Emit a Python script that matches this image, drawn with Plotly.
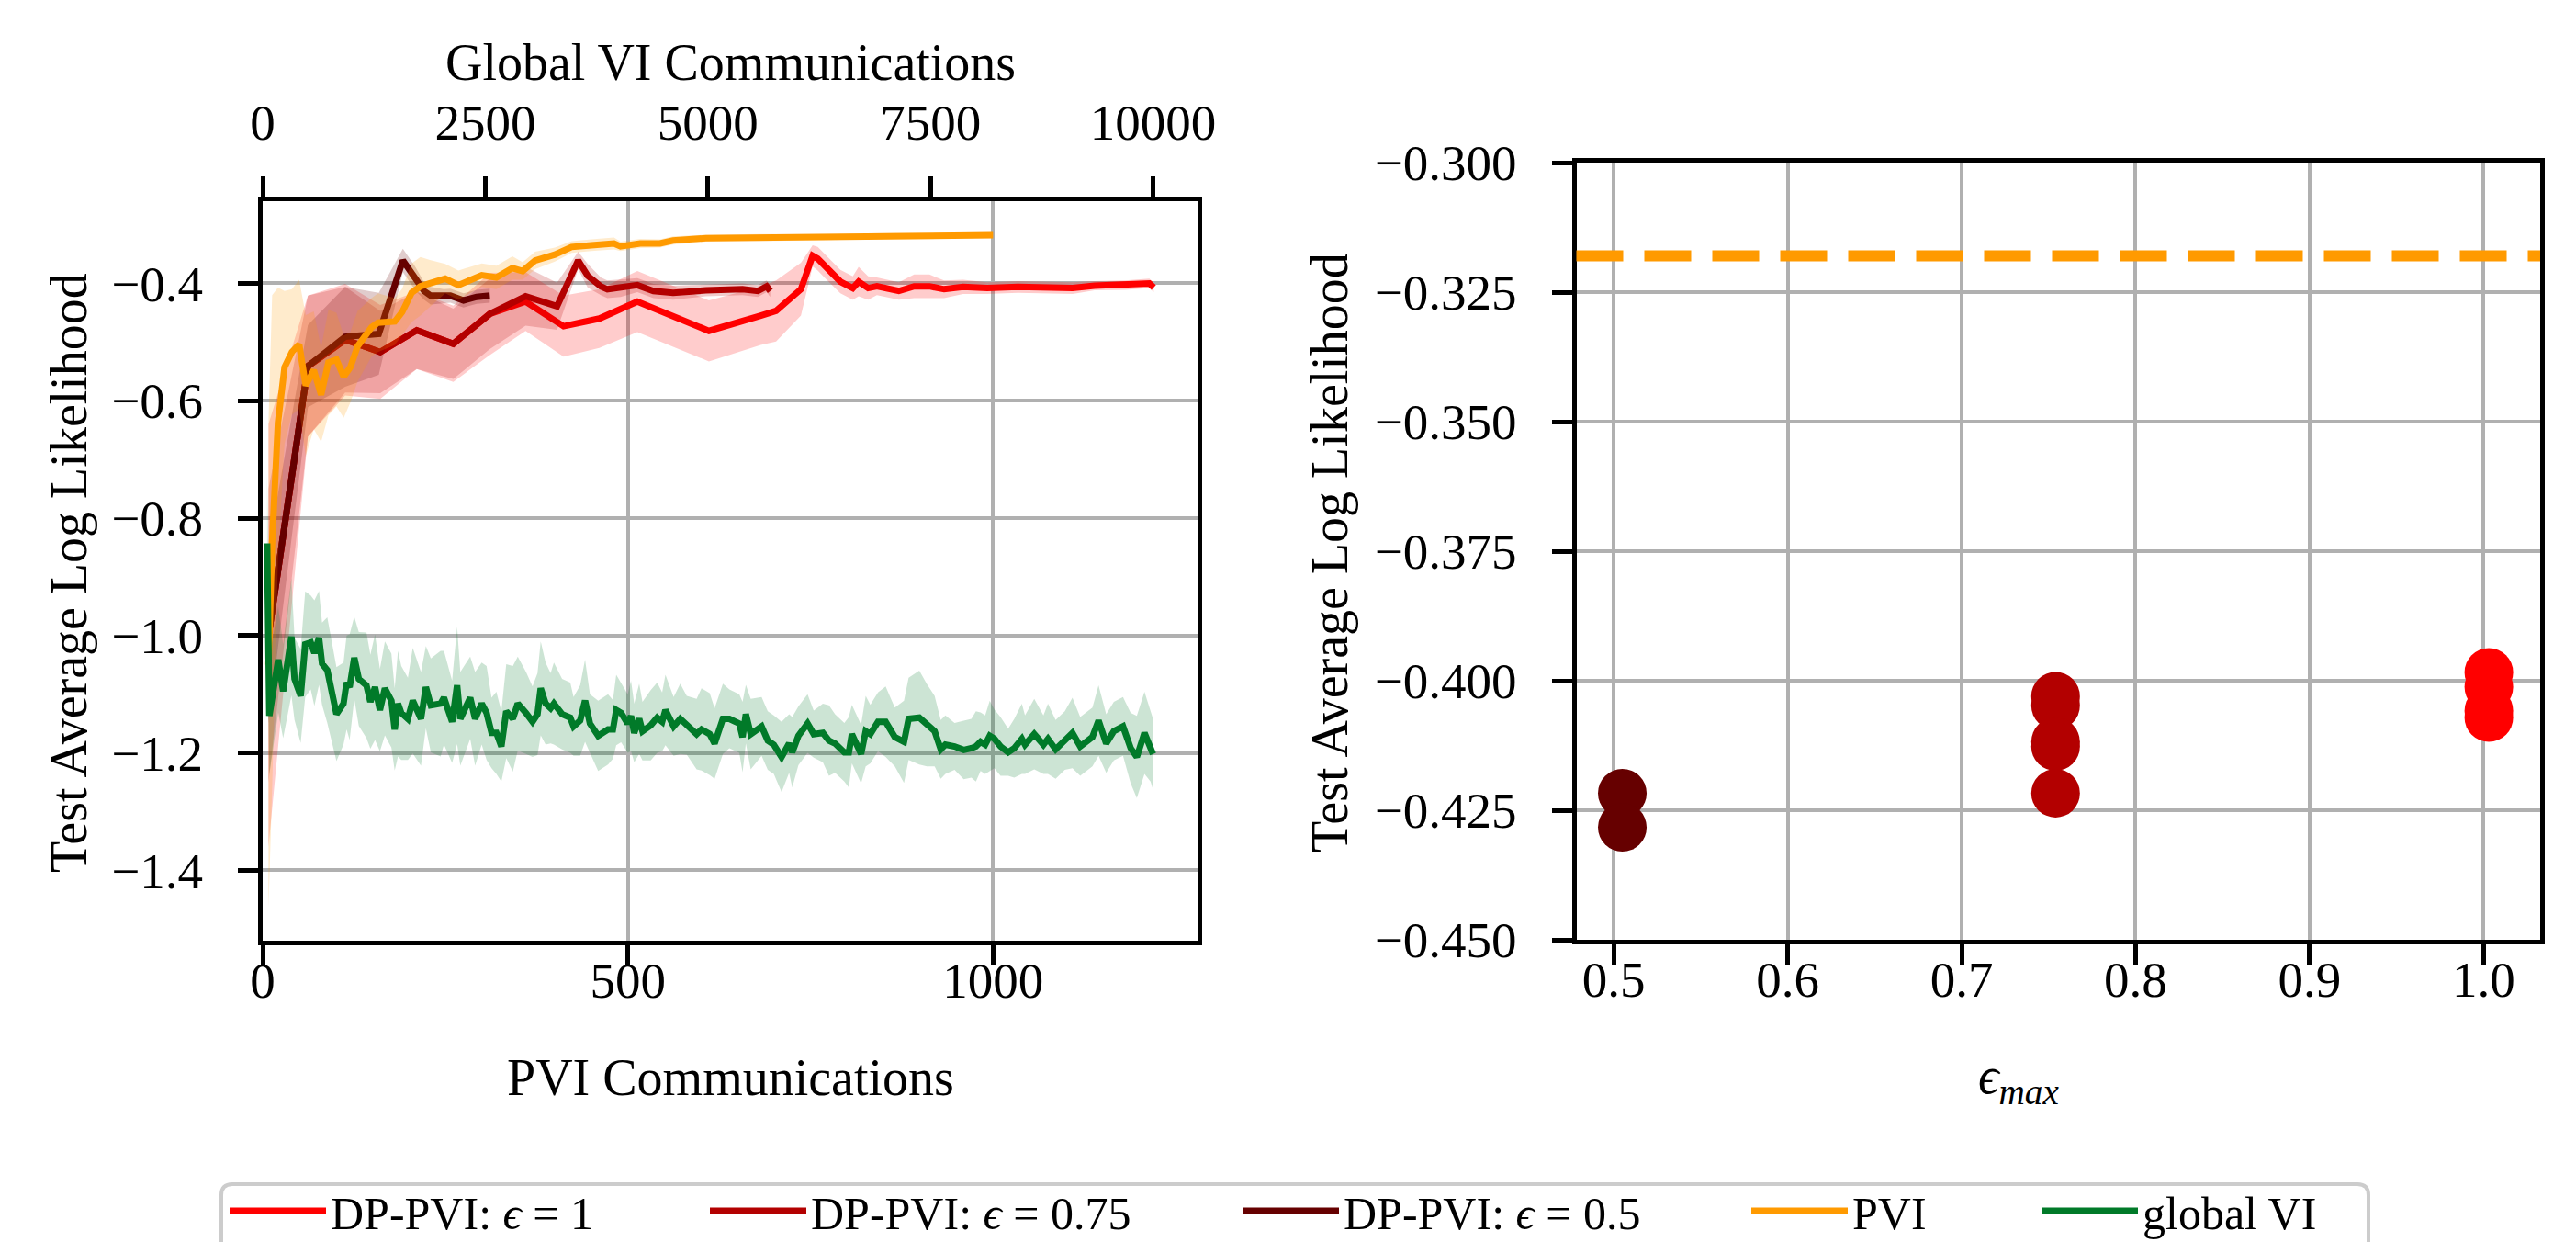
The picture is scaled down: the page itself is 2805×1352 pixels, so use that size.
import plotly.graph_objects as go

# ---------------- data ----------------
# PVI (bottom axis: PVI communications)
pvi_x = [8, 13, 21, 30, 40, 50, 59, 70, 80, 90,
         101, 111, 120, 130, 149, 158, 181, 191, 204, 216,
         229, 250, 268, 300, 320, 342, 356, 373, 400, 423,
         450, 481, 490, 517, 544, 562, 607, 682, 783, 866,
         1000]
pvi_mean = [-1.050, -0.840, -0.637, -0.543, -0.517, -0.504, -0.574, -0.548, -0.590, -0.535,
            -0.530, -0.559, -0.543, -0.507, -0.475, -0.467, -0.465, -0.449, -0.416, -0.405,
            -0.400, -0.392, -0.403, -0.386, -0.390, -0.374, -0.379, -0.361, -0.351, -0.338,
            -0.335, -0.332, -0.337, -0.332, -0.332, -0.327, -0.323, -0.322, -0.321, -0.319,
            -0.318]
pvi_std = [0.415, 0.420, 0.230, 0.130, 0.107, 0.110, 0.120, 0.100, 0.080, 0.090,
           0.080, 0.070, 0.060, 0.060, 0.050, 0.050, 0.040, 0.040, 0.050, 0.050,
           0.040, 0.025, 0.025, 0.020, 0.020, 0.020, 0.015, 0.015, 0.012, 0.010,
           0.010, 0.010, 0.008, 0.008, 0.007, 0.007, 0.006, 0.006, 0.005, 0.005,
           0.005]

# DP-PVI eps = 0.5
dp05_x = [8, 62, 113, 159, 192, 209, 221, 230, 248, 257, 275, 293, 311]
dp05_mean = [-1.000, -0.541, -0.491, -0.486, -0.361, -0.392, -0.413, -0.421, -0.422, -0.421,
             -0.429, -0.423, -0.421]
dp05_std = [0.150, 0.070, 0.085, 0.070, 0.020, 0.020, 0.015, 0.015, 0.012, 0.012,
            0.012, 0.012, 0.012]

# DP-PVI eps = 0.75
dp075_x = [8, 62, 113, 161, 211, 261, 311, 360, 403, 432,
           445, 463, 472, 490, 513, 535, 562, 607, 657, 678,
           690, 695]
dp075_mean = [-1.000, -0.541, -0.496, -0.517, -0.480, -0.503, -0.452, -0.422, -0.439, -0.361,
              -0.387, -0.405, -0.410, -0.408, -0.403, -0.413, -0.416, -0.412, -0.410, -0.413,
              -0.405, -0.413]
dp075_std = [0.250, 0.120, 0.090, 0.070, 0.066, 0.060, 0.060, 0.050, 0.040, 0.015,
             0.020, 0.015, 0.015, 0.015, 0.012, 0.012, 0.012, 0.010, 0.010, 0.010,
             0.010, 0.010]

# DP-PVI eps = 1
dp1_x = [8, 62, 113, 161, 211, 261, 311, 360, 412, 461,
         513, 611, 682, 703, 737, 753, 760, 770, 791, 808,
         816, 829, 841, 871, 892, 913, 933, 959, 992, 1034,
         1076, 1109, 1139, 1181, 1214, 1220]
dp1_mean = [-1.000, -0.541, -0.496, -0.517, -0.480, -0.503, -0.452, -0.431, -0.473, -0.460,
            -0.431, -0.481, -0.455, -0.447, -0.410, -0.353, -0.358, -0.371, -0.397, -0.408,
            -0.397, -0.408, -0.405, -0.413, -0.405, -0.405, -0.410, -0.406, -0.408, -0.406,
            -0.407, -0.408, -0.404, -0.403, -0.400, -0.407]
dp1_std = [0.360, 0.120, 0.095, 0.080, 0.066, 0.065, 0.070, 0.050, 0.052, 0.050,
           0.052, 0.052, 0.050, 0.052, 0.045, 0.018, 0.020, 0.020, 0.020, 0.020,
           0.025, 0.020, 0.015, 0.015, 0.020, 0.020, 0.015, 0.012, 0.010, 0.010,
           0.010, 0.010, 0.008, 0.008, 0.008, 0.008]

# global VI (top axis: Global VI communications)
gvi_x = [50, 75, 175, 230, 323, 358, 427, 478, 540, 581,
         633, 667, 726, 829, 908, 943, 977, 1029, 1080, 1166,
         1210, 1262, 1317, 1373, 1446, 1483, 1520, 1557, 1631, 1686,
         1778, 1833, 1889, 1999, 2036, 2128, 2184, 2220, 2331, 2386,
         2460, 2515, 2571, 2625, 2681, 2736, 2810, 2865, 2958, 3031,
         3087, 3123, 3178, 3234, 3271, 3363, 3455, 3492, 3566, 3621,
         3676, 3768, 3879, 3934, 3971, 4026, 4100, 4137, 4173, 4229,
         4266, 4358, 4431, 4487, 4524, 4616, 4690, 4763, 4874, 4929,
         5021, 5076, 5169, 5242, 5353, 5390, 5427, 5482, 5604, 5673,
         5741, 5828, 5913, 5948, 6017, 6120, 6189, 6292, 6360, 6429,
         6533, 6584, 6618, 6721, 6773, 6825, 6911, 6997, 7100, 7203,
         7255, 7375, 7461, 7547, 7616, 7668, 7771, 7874, 7960, 8011,
         8063, 8115, 8166, 8218, 8287, 8373, 8442, 8527, 8562, 8666,
         8769, 8820, 8906, 9009, 9095, 9182, 9319, 9388, 9474, 9560,
         9663, 9749, 9818, 9904, 9972, 10000]
gvi_mean = [-0.843, -1.137, -1.041, -1.095, -1.002, -1.074, -1.103, -1.015, -1.012, -1.030,
            -1.004, -1.048, -1.059, -1.134, -1.116, -1.080, -1.088, -1.038, -1.074, -1.085,
            -1.113, -1.088, -1.127, -1.090, -1.111, -1.160, -1.116, -1.132, -1.142, -1.111,
            -1.142, -1.088, -1.119, -1.116, -1.106, -1.147, -1.085, -1.142, -1.106, -1.142,
            -1.116, -1.132, -1.166, -1.166, -1.189, -1.129, -1.142, -1.116, -1.132, -1.147,
            -1.134, -1.090, -1.116, -1.124, -1.116, -1.134, -1.140, -1.155, -1.145, -1.111,
            -1.150, -1.171, -1.160, -1.160, -1.127, -1.132, -1.150, -1.137, -1.166, -1.142,
            -1.163, -1.153, -1.140, -1.147, -1.127, -1.155, -1.142, -1.153, -1.168, -1.160,
            -1.168, -1.184, -1.142, -1.142, -1.150, -1.173, -1.134, -1.168, -1.155, -1.179,
            -1.186, -1.207, -1.184, -1.199, -1.171, -1.150, -1.168, -1.166, -1.179, -1.184,
            -1.199, -1.199, -1.168, -1.202, -1.163, -1.168, -1.147, -1.147, -1.173, -1.181,
            -1.142, -1.140, -1.153, -1.163, -1.194, -1.186, -1.189, -1.195, -1.192, -1.189,
            -1.181, -1.186, -1.171, -1.176, -1.189, -1.199, -1.192, -1.176, -1.186, -1.168,
            -1.186, -1.176, -1.194, -1.179, -1.166, -1.189, -1.173, -1.145, -1.184, -1.163,
            -1.155, -1.192, -1.207, -1.166, -1.189, -1.202]
gvi_std = [0.12, 0.10, 0.09, 0.08, 0.10, 0.07, 0.08, 0.09, 0.08, 0.09,
           0.08, 0.07, 0.09, 0.08, 0.07, 0.08, 0.09, 0.07, 0.08, 0.09,
           0.08, 0.09, 0.07, 0.08, 0.08, 0.07, 0.09, 0.08, 0.07, 0.09,
           0.08, 0.07, 0.08, 0.09, 0.08, 0.07, 0.10, 0.08, 0.07, 0.08,
           0.07, 0.08, 0.06, 0.07, 0.06, 0.08, 0.09, 0.08, 0.07, 0.06,
           0.07, 0.08, 0.07, 0.06, 0.07, 0.06, 0.06, 0.05, 0.06, 0.07,
           0.05, 0.06, 0.06, 0.05, 0.06, 0.05, 0.05, 0.06, 0.05, 0.06,
           0.05, 0.06, 0.06, 0.05, 0.06, 0.05, 0.06, 0.05, 0.06, 0.07,
           0.07, 0.06, 0.06, 0.05, 0.05, 0.06, 0.05, 0.06, 0.05, 0.05,
           0.05, 0.06, 0.05, 0.06, 0.05, 0.05, 0.04, 0.05, 0.06, 0.05,
           0.05, 0.06, 0.05, 0.05, 0.06, 0.05, 0.05, 0.06, 0.05, 0.07,
           0.07, 0.08, 0.07, 0.06, 0.05, 0.05, 0.04, 0.05, 0.05, 0.06,
           0.05, 0.05, 0.06, 0.05, 0.05, 0.04, 0.05, 0.06, 0.05, 0.06,
           0.05, 0.06, 0.05, 0.05, 0.06, 0.05, 0.05, 0.06, 0.05, 0.05,
           0.05, 0.06, 0.07, 0.07, 0.06, 0.06]

# right panel: final test log-likelihood per seed vs eps_max
eps_pos = [0.505, 0.754, 1.003]
final_eps05 = [-0.4217, -0.4283]
final_eps075 = [-0.4030, -0.4048, -0.4118, -0.4127, -0.4217]
final_eps1 = [-0.3984, -0.4012, -0.4058, -0.4071]
pvi_final = pvi_mean[-1]

left_xticks = [0, 500, 1000]
top_xticks = [0, 2500, 5000, 7500, 10000]
left_yticks = [-1.4, -1.2, -1.0, -0.8, -0.6, -0.4]
right_xticks = [0.5, 0.6, 0.7, 0.8, 0.9, 1.0]
right_yticks = [-0.450, -0.425, -0.400, -0.375, -0.350, -0.325, -0.300]

# ---------------- styling ----------------
W, H = 2805, 1352
FONT = "Liberation Serif, Times New Roman, serif"
C_EPS1 = "#ff0000"
C_EPS075 = "#b30000"
C_EPS05 = "#660000"
C_PVI = "#ff9a00"
C_GVI = "#017a29"
LW = 7


def rgba(hexc, a):
    h = hexc.lstrip("#")
    r, g, b = int(h[0:2], 16), int(h[2:4], 16), int(h[4:6], 16)
    return f"rgba({r},{g},{b},{a})"


fig = go.Figure()


def add_series(x, mean, std, color, name, legend, xaxis="x"):
    upper = [m + s for m, s in zip(mean, std)]
    lower = [m - s for m, s in zip(mean, std)]
    fig.add_trace(go.Scatter(
        x=list(x) + list(x)[::-1], y=upper + lower[::-1],
        fill="toself", fillcolor=rgba(color, 0.2), line=dict(width=0),
        mode="lines", showlegend=False, hoverinfo="skip",
        xaxis=xaxis, yaxis="y"))
    fig.add_trace(go.Scatter(
        x=x, y=mean, mode="lines", name=name, legend=legend,
        line=dict(color=color, width=LW), xaxis=xaxis, yaxis="y"))


add_series(dp1_x, dp1_mean, dp1_std, C_EPS1, "DP-PVI: <i>ϵ</i> = 1", "legend")
add_series(dp075_x, dp075_mean, dp075_std, C_EPS075, "DP-PVI: <i>ϵ</i> = 0.75", "legend2")
add_series(dp05_x, dp05_mean, dp05_std, C_EPS05, "DP-PVI: <i>ϵ</i> = 0.5", "legend3")
add_series(pvi_x, pvi_mean, pvi_std, C_PVI, "PVI", "legend4")
add_series(gvi_x, gvi_mean, gvi_std, C_GVI, "global VI", "legend5", xaxis="x3")

# right panel scatter
for xpos, vals, col in [(eps_pos[0], final_eps05, C_EPS05),
                        (eps_pos[1], final_eps075, C_EPS075),
                        (eps_pos[2], final_eps1, C_EPS1)]:
    fig.add_trace(go.Scatter(
        x=[xpos] * len(vals), y=vals, mode="markers",
        marker=dict(color=col, size=53, line=dict(width=0)),
        showlegend=False, xaxis="x2", yaxis="y2"))

# PVI reference level on the right panel
fig.add_shape(type="line", xref="x2 domain", yref="y2", x0=0, x1=1,
              y0=pvi_final, y1=pvi_final,
              line=dict(color=C_PVI, width=12, dash="51px,23px"))

tickfont = dict(family=FONT, size=55, color="black")
ax = dict(showline=True, linecolor="black", linewidth=5, ticks="outside",
          ticklen=22, tickwidth=5, tickcolor="black", gridcolor="#b0b0b0",
          gridwidth=4, zeroline=False, tickfont=tickfont, automargin=False)

L_X0, L_X1 = 278 / W, 1296 / W
L_Y0, L_Y1 = 1 - 1016 / H, 1 - 211 / H
R_X0, R_X1 = 1708.5 / W, 2758 / W
R_Y0, R_Y1 = 1 - 1015 / H, 1 - 169 / H

legend_font = dict(family=FONT, size=50, color="black")


def legend_at(px):
    return dict(orientation="h", x=px / W, y=1 - 1271 / H, xanchor="left", yanchor="top",
                borderwidth=0, bgcolor="rgba(0,0,0,0)", font=legend_font, itemwidth=105)


fig.update_layout(
    width=W, height=H, margin=dict(l=0, r=0, t=0, b=0, autoexpand=False),
    paper_bgcolor="white", plot_bgcolor="white",
    font=dict(family=FONT, size=56, color="black"),
    xaxis=dict(ax, domain=[L_X0, L_X1], range=[0, 1280], tickvals=left_xticks,
               showgrid=True, mirror=True, anchor="y", ticklabelstandoff=-31),
    xaxis3=dict(ax, overlaying="x", side="top", anchor="y", range=[0, 10500],
                tickvals=top_xticks, tickformat="d", showgrid=False, ticklabelstandoff=18),
    yaxis=dict(ax, domain=[L_Y0, L_Y1], range=[-1.52, -0.26], tickvals=left_yticks,
               tickformat=".1f", showgrid=True, mirror=True, anchor="x",
               ticklabelstandoff=27),
    xaxis2=dict(ax, domain=[R_X0, R_X1], range=[0.4786, 1.0325], tickvals=right_xticks,
                tickformat=".1f", showgrid=True, mirror=True, anchor="y2",
                ticklabelstandoff=-31),
    yaxis2=dict(ax, domain=[R_Y0, R_Y1], range=[-0.45, -0.30], tickvals=right_yticks,
                tickformat=".3f", showgrid=True, mirror=True, anchor="x2",
                ticklabelstandoff=27),
    legend=legend_at(237),
    legend2=legend_at(760),
    legend3=legend_at(1340),
    legend4=legend_at(1894),
    legend5=legend_at(2210),
    showlegend=True,
)

# legend frame (rounded top corners; bottom runs past the figure edge as in the reference)
bx0, bx1, by0, by1, rr = 233, 2571, 1281, 1400, 12
px = lambda v: v / W
py = lambda v: 1 - v / H
frame = (f"M {px(bx0)},{py(by1)} L {px(bx0)},{py(by0 + rr)} "
         f"Q {px(bx0)},{py(by0)} {px(bx0 + rr)},{py(by0)} "
         f"L {px(bx1 - rr)},{py(by0)} Q {px(bx1)},{py(by0)} {px(bx1)},{py(by0 + rr)} "
         f"L {px(bx1)},{py(by1)} Z")
fig.add_shape(type="path", xref="paper", yref="paper", path=frame,
              line=dict(color="#cccccc", width=4), fillcolor="white", layer="below")

title_font = dict(family=FONT, size=56, color="black")
annos = [
    dict(text="Test Average Log Likelihood", x=67 / W, y=1 - 616 / H, textangle=-90),
    dict(text="Test Average Log Likelihood", x=1440 / W, y=1 - 594 / H, textangle=-90),
    dict(text="PVI Communications", x=787 / W, y=1 - 1165 / H),
    dict(text="Global VI Communications", x=787 / W, y=1 - 60 / H),
    dict(text="<i>ϵ</i><sub><i>max</i></sub>", x=2190 / W, y=1 - 1167 / H),
]
for a in annos:
    fig.add_annotation(xref="paper", yref="paper", showarrow=False,
                       xanchor="center", yanchor="middle", font=title_font, **a)

fig.write_html("out.html")
